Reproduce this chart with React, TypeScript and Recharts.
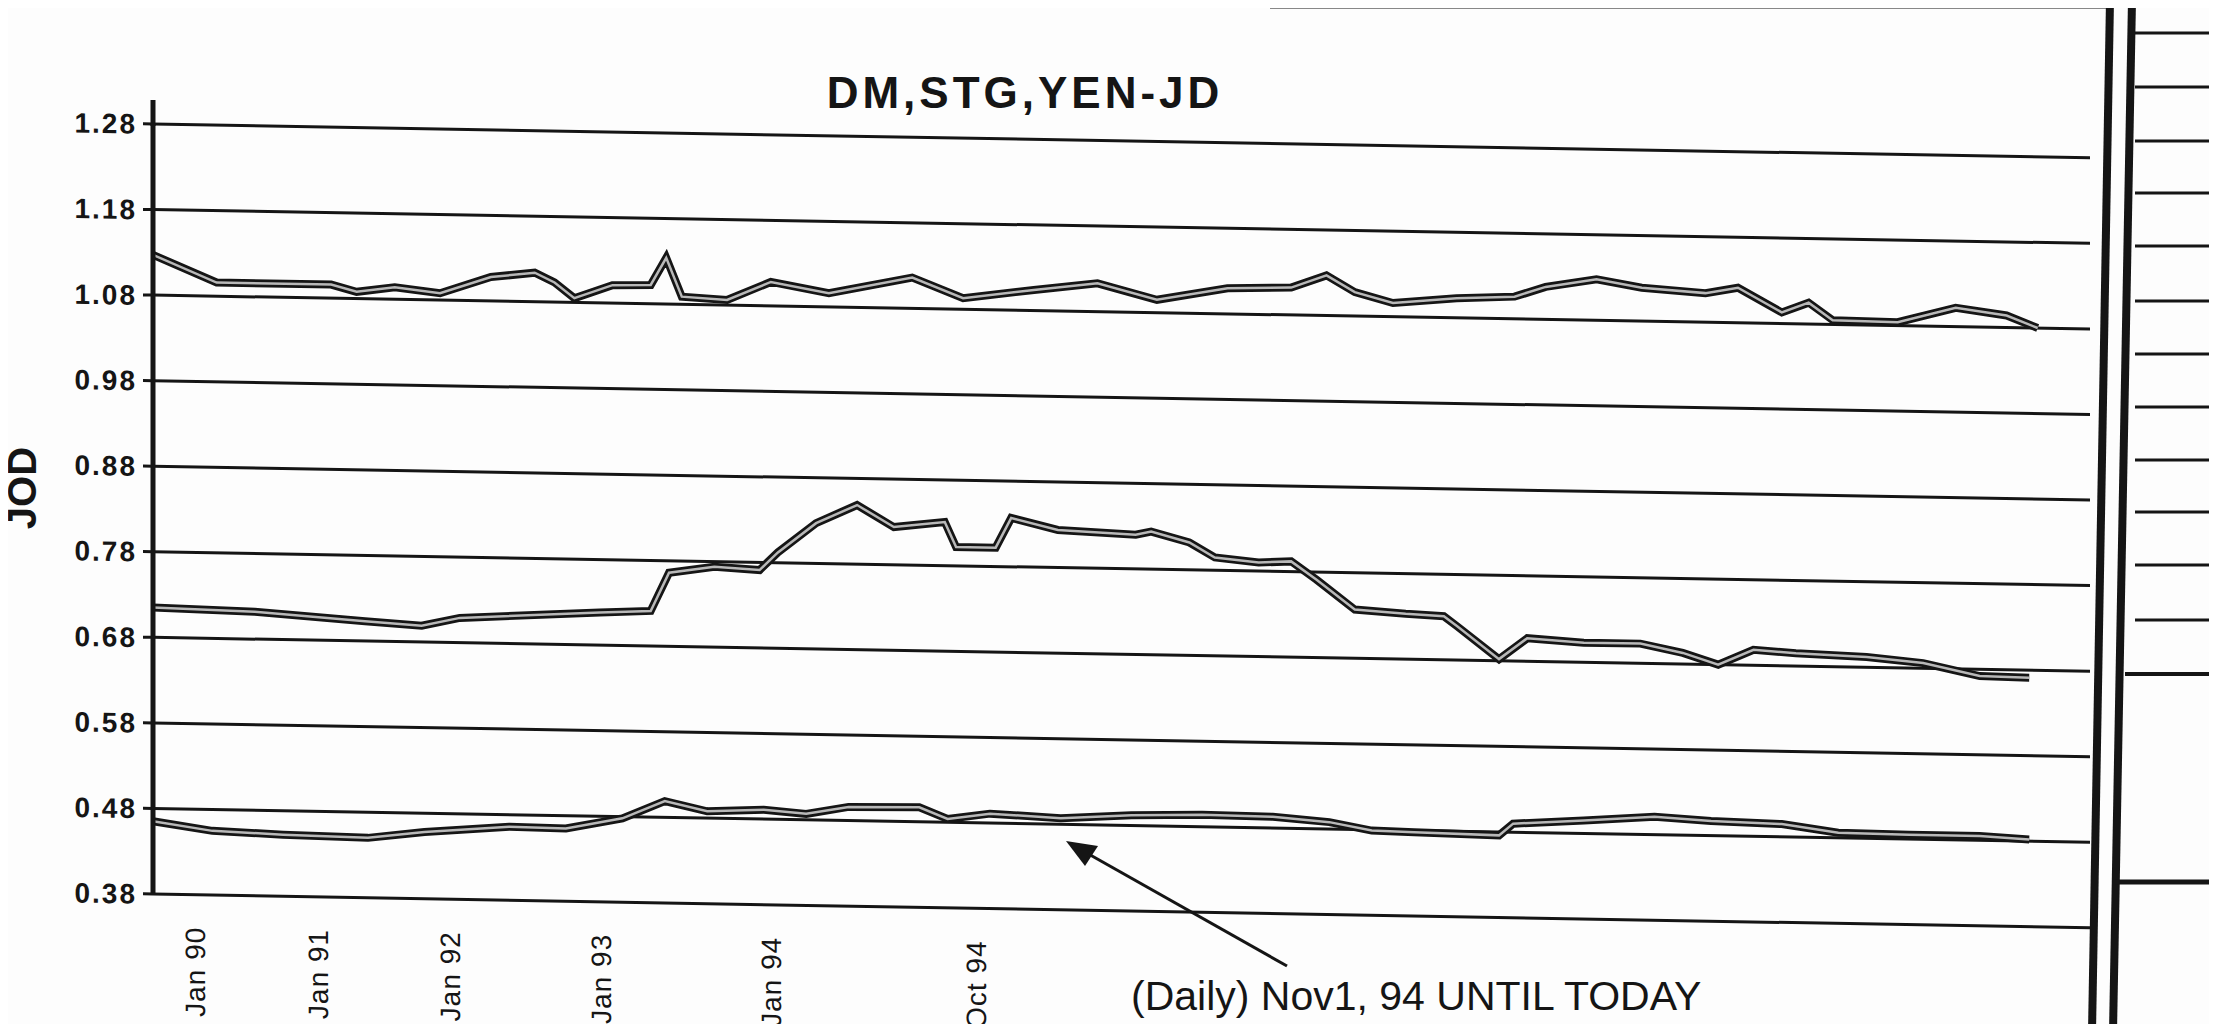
import React from 'react';
import { LineChart, Line, XAxis, YAxis, CartesianGrid } from 'recharts';

// observation index along the category axis (monthly, then daily from Nov 94)
const stgObs = [0, 45, 126, 144, 171, 203, 239, 270, 284, 298, 325, 352, 363, 374, 406, 437, 478, 537, 573, 623, 668, 710, 760, 805, 830, 850, 877, 922, 963, 985, 1021, 1053, 1098, 1121, 1152, 1171, 1188, 1234, 1275, 1311, 1333];
const stgVals = [1.127, 1.096, 1.096, 1.088, 1.094, 1.088, 1.108, 1.114, 1.103, 1.085, 1.101, 1.102, 1.134, 1.089, 1.086, 1.108, 1.096, 1.116, 1.093, 1.104, 1.113, 1.095, 1.11, 1.112, 1.127, 1.108, 1.096, 1.103, 1.106, 1.118, 1.128, 1.119, 1.114, 1.121, 1.093, 1.105, 1.085, 1.084, 1.102, 1.094, 1.08];

const yenObs = [0, 72, 150, 190, 217, 316, 352, 365, 397, 429, 442, 469, 498, 524, 560, 568, 596, 607, 640, 695, 706, 733, 751, 782, 805, 823, 850, 886, 913, 922, 952, 972, 1012, 1052, 1082, 1107, 1132, 1162, 1212, 1252, 1292, 1327];
const yenVals = [0.715, 0.712, 0.703, 0.699, 0.709, 0.718, 0.721, 0.766, 0.774, 0.771, 0.792, 0.827, 0.849, 0.824, 0.831, 0.802, 0.802, 0.837, 0.824, 0.82, 0.824, 0.812, 0.795, 0.79, 0.792, 0.771, 0.737, 0.733, 0.731, 0.72, 0.682, 0.707, 0.703, 0.703, 0.693, 0.68, 0.698, 0.695, 0.692, 0.686, 0.672, 0.671];

const dmObs = [0, 42, 92, 152, 192, 252, 292, 332, 362, 392, 432, 462, 492, 542, 562, 592, 642, 692, 742, 792, 832, 862, 892, 952, 962, 1012, 1062, 1102, 1152, 1192, 1242, 1292, 1327];
const dmVals = [0.465, 0.455, 0.452, 0.45, 0.458, 0.466, 0.465, 0.478, 0.499, 0.488, 0.491, 0.487, 0.496, 0.497, 0.484, 0.491, 0.487, 0.492, 0.494, 0.493, 0.488, 0.479, 0.478, 0.476, 0.49, 0.495, 0.501, 0.497, 0.495, 0.486, 0.485, 0.485, 0.482];

const yTicks = [0.38, 0.48, 0.58, 0.68, 0.78, 0.88, 0.98, 1.08, 1.18, 1.28];
const xTickObs = [30, 117, 210, 317, 437, 582];
const xTickLabels = ['Jan 90', 'Jan 91', 'Jan 92', 'Jan 93', 'Jan 94', 'Oct 94'];

const toPoints = (obs: number[], vals: number[]) => obs.map((o, i) => ({ obs: o, v: vals[i] }));

const stgData = toPoints(stgObs, stgVals);
const yenData = toPoints(yenObs, yenVals);
const dmData = toPoints(dmObs, dmVals);

const FONT = '"Liberation Sans", Arial, sans-serif';
const INK = '#151515';

const XTick = (props: any) => {
  const { x, y, payload } = props;
  const label = xTickLabels[xTickObs.indexOf(payload.value)];
  const ty = y + 32;
  return (
    <text x={x} y={ty} transform={`rotate(-90, ${x}, ${ty})`} textAnchor="end" dy="0.35em"
      fill={INK} fontSize={28} letterSpacing={1} fontFamily={FONT}>
      {label}
    </text>
  );
};

// neighbouring chart's gridlines visible past the page border
const sideLines = [33, 87, 141, 193, 246, 301, 354, 407, 460, 512, 565, 620];

const App: React.FC = () => {
  const series = [stgData, yenData, dmData];
  return (
    <div style={{ position: 'relative', width: 2217, height: 1032, margin: -8, overflow: 'hidden', background: '#fdfdfd' }}>
      <div style={{ position: 'absolute', left: 0, top: 0, transform: 'skewY(1deg)', transformOrigin: '153px 124px' }}>
        <LineChart width={2217} height={1032} margin={{ top: 124, right: 127, bottom: 38, left: 53 }}>
          <CartesianGrid horizontal vertical={false} stroke={INK} strokeWidth={3} />
          <XAxis dataKey="obs" type="number" domain={[0, 1370]} ticks={xTickObs} interval={0}
            axisLine={false} tickLine={false} tickSize={0} tickMargin={0} height={100} tick={<XTick />} />
          <YAxis type="number" domain={[0.38, 1.28]} ticks={yTicks} interval={0} width={100}
            axisLine={{ stroke: INK, strokeWidth: 5 }} tickLine={{ stroke: INK, strokeWidth: 3 }}
            tickSize={10} tickMargin={6} tickFormatter={(v: number) => v.toFixed(2)}
            tick={{ fill: INK, fontSize: 28, fontWeight: 'bold', fontFamily: FONT, letterSpacing: 2 }} />
          {series.map((d, i) => (
            <Line key={`o${i}`} data={d} dataKey="v" type="linear" stroke={INK} strokeWidth={8}
              dot={false} activeDot={false} isAnimationActive={false} />
          ))}
          {series.map((d, i) => (
            <Line key={`i${i}`} data={d} dataKey="v" type="linear" stroke="#b8b8b8" strokeWidth={2.5}
              dot={false} activeDot={false} isAnimationActive={false} />
          ))}
        </LineChart>
      </div>

      <div style={{ position: 'absolute', left: 0, width: 2050, top: 68, textAlign: 'center', fontFamily: FONT, fontWeight: 'bold', fontSize: 44, letterSpacing: 4, color: INK }}>
        DM,STG,YEN-JD
      </div>

      <div style={{ position: 'absolute', left: 1131, top: 973, fontFamily: FONT, fontSize: 41, color: INK, whiteSpace: 'nowrap' }}>
        (Daily) Nov1, 94 UNTIL TODAY
      </div>

      <svg width={2217} height={1032} style={{ position: 'absolute', left: 0, top: 0, pointerEvents: 'none' }}>
        <text x={22} y={488} transform="rotate(-90, 22, 488)" textAnchor="middle" dy="0.36em"
          fontFamily={FONT} fontWeight="bold" fontSize={40} fill={INK}>
          JOD
        </text>
        <line x1={153} y1={100} x2={153} y2={126} stroke={INK} strokeWidth={5} />
        <line x1={1287} y1={966} x2={1085} y2={852} stroke={INK} strokeWidth={3} />
        <polygon points="1066,841 1098,846 1085,866" fill={INK} />
        <line x1={1270} y1={6} x2={2112} y2={6} stroke={INK} strokeWidth={5} />
        <line x1={2110} y1={0} x2={2092} y2={1032} stroke={INK} strokeWidth={8} />
        <line x1={2132} y1={0} x2={2113} y2={1032} stroke={INK} strokeWidth={8} />
        {sideLines.map((y) => (
          <line key={y} x1={2135} y1={y} x2={2217} y2={y} stroke={INK} strokeWidth={3} />
        ))}
        <line x1={2125} y1={674} x2={2217} y2={674} stroke={INK} strokeWidth={4} />
        <line x1={2115} y1={882} x2={2217} y2={882} stroke={INK} strokeWidth={5} />
      </svg>
    </div>
  );
};

export default App;
